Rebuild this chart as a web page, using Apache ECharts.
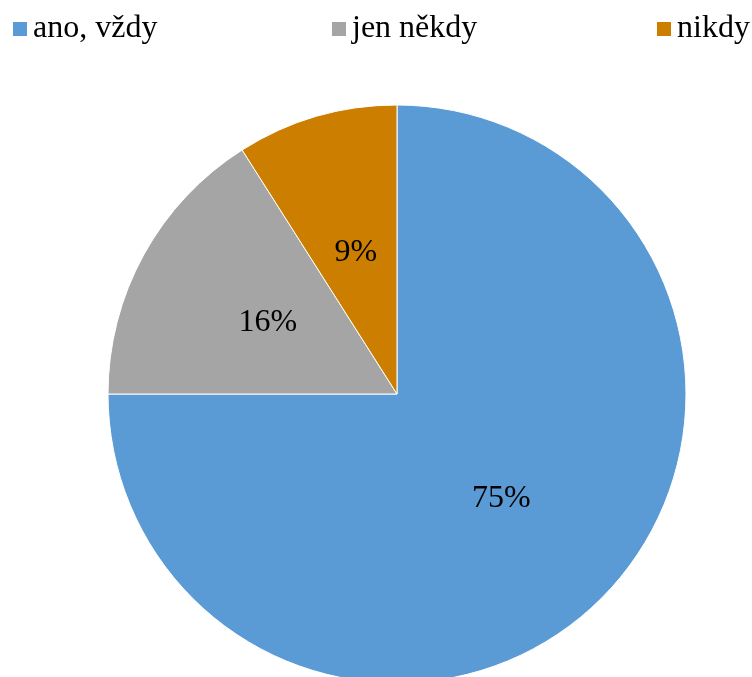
<!DOCTYPE html>
<html>
<head>
<meta charset="utf-8">
<script src="https://cdn.jsdelivr.net/npm/echarts@6/dist/echarts.min.js"></script>
<style>
  html, body { margin: 0; padding: 0; background: #ffffff; }
  #chart { width: 752px; height: 677px; }
</style>
</head>
<body>
<div id="chart"></div>
<script>
// Answer categories and their shares (percent)
const categories = ['ano, vždy', 'jen někdy', 'nikdy'];
const shares = [75, 16, 9];
const colors = ['#5B9BD5', '#A5A5A5', '#CC7E00'];

const FONT = '"Liberation Serif", "Times New Roman", serif';

const chart = echarts.init(document.getElementById('chart'), null, { renderer: 'canvas' });

// One legend block per category so each sits at its own spot along the top
const legendLefts = [11, 330, 655];
const legends = categories.map((name, i) => ({
  data: [name],
  left: legendLefts[i],
  top: 13,
  padding: 0,
  itemWidth: 16,
  itemHeight: 16,
  icon: 'rect',
  selectedMode: false,
  textStyle: { fontFamily: FONT, fontSize: 32, color: '#000000', padding: [2, 0, 0, 0] }
}));

chart.setOption({
  animation: false,
  backgroundColor: '#ffffff',
  color: colors,
  legend: legends,
  series: [{
    type: 'pie',
    center: [397, 394],
    radius: 289,
    startAngle: 90,
    clockwise: true,
    avoidLabelOverlap: false,
    itemStyle: { borderColor: '#ffffff', borderWidth: 1 },
    label: {
      show: true,
      position: 'inside',
      formatter: p => p.value + '%',
      fontFamily: FONT,
      fontSize: 32,
      color: '#000000'
    },
    labelLine: { show: false },
    emphasis: { disabled: true },
    data: categories.map((name, i) => ({ name, value: shares[i] }))
  }]
});
</script>
</body>
</html>
